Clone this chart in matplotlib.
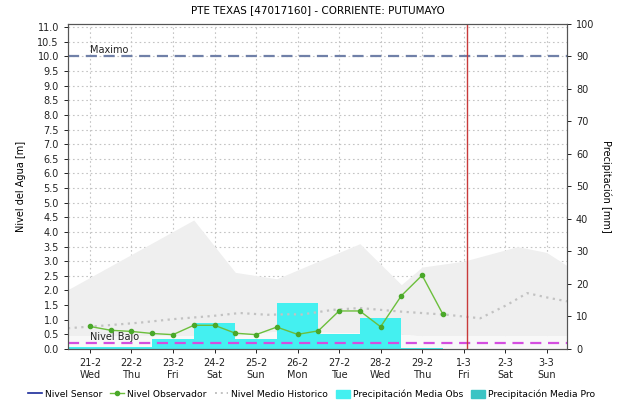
import matplotlib
matplotlib.use("Agg")
import matplotlib.pyplot as plt
import numpy as np
from matplotlib.lines import Line2D
from matplotlib.patches import Patch

titulo = "PTE TEXAS [47017160] - CORRIENTE: PUTUMAYO"

dias = ["21-2", "22-2", "23-2", "24-2", "25-2", "26-2", "27-2", "28-2", "29-2", "1-3", "2-3", "3-3"]
semana = ["Wed", "Thu", "Fri", "Sat", "Sun", "Mon", "Tue", "Wed", "Thu", "Fri", "Sat", "Sun"]

# nivel observador, lecturas cada 12 horas (indice de dia)
obs_t = [0, 0.5, 1, 1.5, 2, 2.5, 3, 3.5, 4, 4.5, 5, 5.5, 6, 6.5, 7, 7.5, 8, 8.5]
obs_nivel = [0.77, 0.64, 0.60, 0.53, 0.49, 0.81, 0.81, 0.54, 0.49, 0.75, 0.50, 0.62,
             1.30, 1.30, 0.76, 1.82, 2.52, 1.19]

# nivel medio historico
hist_t = [-0.53, 0.24, 1.2, 2.0, 2.96, 3.61, 4.27, 4.89, 5.06, 5.86, 6.5, 7.47,
          8.6, 9.4, 10.05, 10.53, 11.08, 11.49]
hist_medio = [0.71, 0.79, 0.90, 1.02, 1.13, 1.23, 1.17, 1.19, 1.17, 1.34, 1.40, 1.28,
              1.17, 1.05, 1.51, 1.91, 1.74, 1.63]

# banda historica (max / min)
banda_t = [-0.53, 2.5, 3.5, 4.5, 6.5, 7.5, 8.0, 9.0, 10.3, 11.0, 11.49]
banda_max = [2.03, 4.41, 2.62, 2.40, 3.60, 2.20, 2.80, 3.00, 3.50, 3.30, 2.85]
banda_min = [0.45, 0.45, 0.45, 0.60, 0.55, 0.50, 0.45, 0.45, 0.45, 0.45, 0.45]

# precipitacion diaria [mm]
prec_dia = [0, 1, 2, 3, 4, 5, 6, 7, 8]
prec_obs = [0.7, 0.7, 3.1, 8.1, 3.2, 14.2, 4.7, 9.6, 0.4]
prec_pro = [0, 0, 0, 0, 0, 0, 0, 0, 0]

nivel_maximo = 10.0
nivel_bajo = 0.2
ahora = 9.08

fig = plt.figure(figsize=(6.23, 4.01), dpi=100)
ax = fig.add_axes([0.1091, 0.1297, 0.801, 0.8105])
ax2 = ax.twinx()

x = np.arange(len(dias))
ax.set_xlim(-0.53, 11.49)
ax.set_ylim(0, 100 / 9.0)
ax2.set_ylim(0, 100)

ax.fill_between(banda_t, banda_min, banda_max, color="#efefef", lw=0, zorder=1)
ax.fill_between(banda_t, 0, banda_min, color="#f8f8f8", lw=0, zorder=1)

# barras de precipitacion en escala del eje derecho, dibujadas en el eje izquierdo
esc = (100 / 9.0) / 100
ax.bar(prec_dia, np.array(prec_obs) * esc, width=1.0, color="#44f0f0", lw=0, zorder=2)
ax.bar(prec_dia, np.array(prec_pro) * esc, width=1.0, color="#3cc4c4", lw=0, zorder=2)

ax.set_yticks(np.arange(0, 11.01, 0.5))
ax.set_yticklabels([f"{v:.1f}" for v in np.arange(0, 11.01, 0.5)])
ax.set_xticks(x)
ax.set_xticklabels([f"{d}\n{s}" for d, s in zip(dias, semana)])
ax.grid(True, color="#c4c4c4", linestyle=(0, (1.5, 2.5)), lw=0.8, zorder=0)
ax.set_axisbelow(True)

ax.plot(hist_t, hist_medio, color="#c2c2c2", lw=1.6, linestyle=(0, (1, 2)), zorder=3)
ax.plot(obs_t, obs_nivel, color="#6cbf3c", lw=1.0, marker="o", ms=3,
        mfc="#4aa82a", mec="#4aa82a", zorder=5)

ax.axhline(nivel_maximo, color="#7080a8", lw=1.6, linestyle=(0, (5, 3)), zorder=4)
ax.axhline(nivel_bajo, color="#d44ee0", lw=1.6, linestyle=(0, (5, 3)), zorder=4)
ax.axvline(ahora, color="#c83a3a", lw=1.0, zorder=6)
ax.text(0.0, nivel_maximo + 0.05, "Maximo", fontsize=7, va="bottom", color="#222222")
ax.text(0.0, nivel_bajo + 0.05, "Nivel Bajo", fontsize=7, va="bottom", color="#222222")

ax2.set_yticks(np.arange(0, 101, 10))
for a in (ax, ax2):
    a.tick_params(labelsize=7, length=3, width=0.7, colors="#222222")
    for s in a.spines.values():
        s.set_color("#555555")
        s.set_linewidth(0.8)

ax.set_ylabel("Nivel del Agua [m]", fontsize=7, labelpad=8)
ax2.set_ylabel("Precipitación [mm]", fontsize=7, rotation=-90, labelpad=12)
ax.set_title(titulo, fontsize=7.5, pad=8)

handles = [
    Line2D([], [], color="#1a2a9a", lw=1.2),
    Line2D([], [], color="#6cbf3c", lw=1.0, marker="o", ms=3, mfc="#4aa82a", mec="#4aa82a"),
    Line2D([], [], color="#c2c2c2", lw=1.4, linestyle=(0, (1, 2))),
    Patch(color="#44f0f0"),
    Patch(color="#3cc4c4"),
]
etiquetas = ["Nivel Sensor", "Nivel Observador", "Nivel Medio Historico",
             "Precipitación Media Obs", "Precipitación Media Pro"]
fig.legend(handles, etiquetas, loc="lower center", bbox_to_anchor=(0.5, -0.015), ncol=5,
           frameon=False, fontsize=6.6, handlelength=1.5, handletextpad=0.3,
           columnspacing=0.9, handleheight=1.0)

fig.savefig("out.png", dpi=100)
